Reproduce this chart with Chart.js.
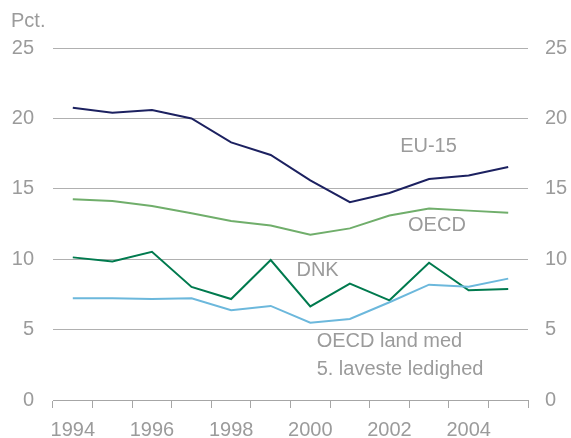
<!DOCTYPE html>
<html>
<head>
<meta charset="utf-8">
<script src="https://cdn.jsdelivr.net/npm/chart.js@4/dist/chart.umd.min.js"></script>
<style>
  html, body { margin: 0; padding: 0; background: #fff; }
  #wrap { width: 571px; height: 438px; position: relative; }
</style>
</head>
<body>
<div id="wrap"><canvas id="chart"></canvas></div>
<script>
const years = ['1994', '1995', '1996', '1997', '1998', '1999', '2000', '2001', '2002', '2003', '2004', '2005'];
const eu15 = [20.75, 20.4, 20.6, 20.0, 18.3, 17.4, 15.6, 14.05, 14.7, 15.7, 15.95, 16.55];
const oecd = [14.25, 14.13, 13.78, 13.26, 12.71, 12.4, 11.74, 12.19, 13.1, 13.6, 13.45, 13.3];
const dnk = [10.13, 9.83, 10.53, 8.03, 7.17, 9.94, 6.65, 8.26, 7.08, 9.75, 7.79, 7.88];
const oecdLow5 = [7.22, 7.22, 7.17, 7.22, 6.37, 6.68, 5.49, 5.75, 6.94, 8.19, 8.05, 8.62];
const yTicks = [0, 5, 10, 15, 20, 25];

// inline series labels: [text, x index, y value]
const seriesLabels = [
  ['EU-15', 8.27, 17.97],
  ['OECD', 8.47, 12.39],
  ['DNK', 5.65, 9.2],
  ['OECD land med', 6.16, 4.15],
  ['5. laveste ledighed', 6.16, 2.15]
];

const textGrey = '#9b9b9b';
const font = { family: 'Liberation Sans, Arial, sans-serif', size: 20 };

const labelPlugin = {
  id: 'inlineLabels',
  afterDatasetsDraw(chart) {
    const ctx = chart.ctx;
    const x = chart.scales.x, y = chart.scales.y;
    ctx.save();
    ctx.fillStyle = textGrey;
    ctx.font = '20px "Liberation Sans", Arial, sans-serif';
    ctx.textAlign = 'left';
    ctx.textBaseline = 'middle';
    seriesLabels.forEach(([t, xi, yv]) => {
      ctx.fillText(t, x.getPixelForValue(xi), y.getPixelForValue(yv));
    });
    ctx.fillText('Pct.', 11, 21);
    ctx.restore();
  }
};

const line = (data, color) => ({
  data: data,
  borderColor: color,
  backgroundColor: color,
  borderWidth: 2,
  pointRadius: 0,
  tension: 0,
  yAxisID: 'y'
});

new Chart(document.getElementById('chart'), {
  type: 'line',
  data: {
    labels: years,
    datasets: [
      line(oecdLow5, '#6cb8dc'),
      line(dnk, '#007a4e'),
      line(oecd, '#70ae6b'),
      line(eu15, '#1c2160')
    ]
  },
  options: {
    responsive: true,
    maintainAspectRatio: false,
    animation: false,
    layout: { padding: { top: 48, left: 12, right: 0, bottom: 0 } },
    plugins: { legend: { display: false }, tooltip: { enabled: false } },
    scales: {
      x: {
        offset: true,
        grid: {
          offset: true,
          drawOnChartArea: false,
          drawTicks: true,
          tickLength: 8,
          color: '#a6a6a6'
        },
        border: { display: true, color: '#a6a6a6' },
        ticks: {
          color: textGrey,
          font: font,
          padding: 10,
          maxRotation: 0,
          autoSkip: false,
          callback: (v, i) => (i % 2 === 0 ? years[i] : '')
        },
        afterFit: (s) => { s.height = 38; }
      },
      y: {
        position: 'left',
        min: 0,
        max: 25,
        afterBuildTicks: (s) => { s.ticks = yTicks.map(v => ({ value: v })); },
        grid: { color: '#b0b0b0', drawTicks: false },
        border: { display: false },
        ticks: { color: textGrey, font: font, padding: 19 },
        afterFit: (s) => { s.width = 41; }
      },
      y2: {
        position: 'right',
        min: 0,
        max: 25,
        afterBuildTicks: (s) => { s.ticks = yTicks.map(v => ({ value: v })); },
        grid: { display: false, drawTicks: false },
        border: { display: false },
        ticks: { color: textGrey, font: font, padding: 17 },
        afterFit: (s) => { s.width = 43; }
      }
    }
  },
  plugins: [labelPlugin]
});
</script>
</body>
</html>
